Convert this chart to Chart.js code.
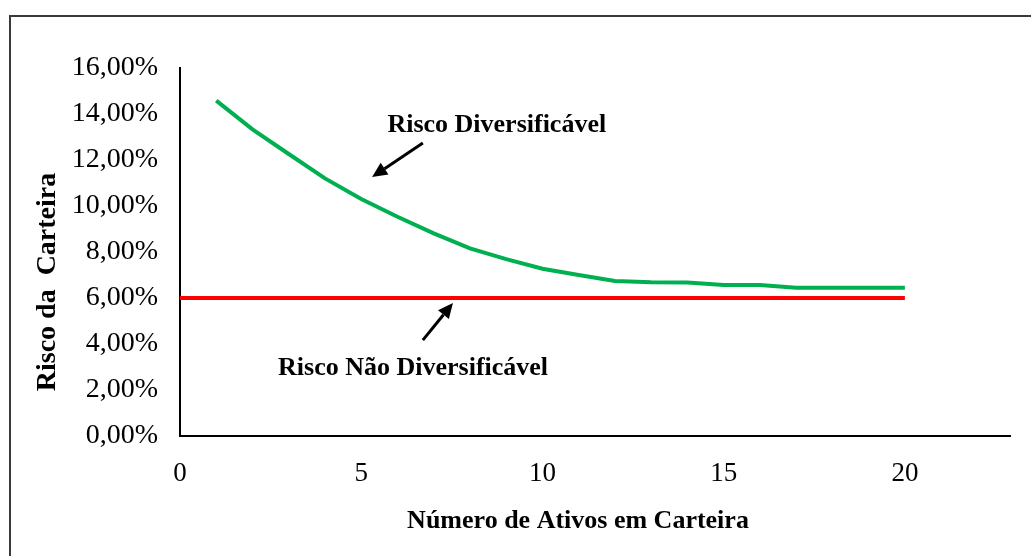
<!DOCTYPE html>
<html>
<head>
<meta charset="utf-8">
<script src="https://cdn.jsdelivr.net/npm/chart.js@4"></script>
<style>
  html, body { margin: 0; padding: 0; background: #fff; }
  #chart { display: block; }
</style>
</head>
<body>
<canvas id="chart" width="1031" height="556"></canvas>
<script>
// Data (risk in %)
const numAtivos = [1, 2, 3, 4, 5, 6, 7, 8, 9, 10, 11, 12, 13, 14, 15, 16, 17, 18, 19, 20];
const riscoCarteira = [14.58, 13.33, 12.26, 11.2, 10.3, 9.53, 8.81, 8.16, 7.69, 7.27,
  7.0, 6.74, 6.68, 6.67, 6.57, 6.57, 6.45, 6.45, 6.45, 6.45];
const riscoSistX = [0, 20];
const riscoSistY = [6, 6];
const xTicks = [0, 5, 10, 15, 20];
const yTicks = [0, 2, 4, 6, 8, 10, 12, 14, 16];

const serif = "'Liberation Serif', 'Times New Roman', serif";

// Text labels and arrows, in data coordinates
const notes = [
  { text: "Risco Diversificável", x: 8.74, y: 13.52 },
  { text: "Risco Não Diversificável", x: 6.43, y: 2.96 },
];
const arrows = [
  { from: [6.70, 12.74], to: [5.30, 11.26] },
  { from: [6.70, 4.17], to: [7.53, 5.78] },
];

const framePlugin = {
  id: "frame",
  beforeDraw(chart) {
    const ctx = chart.ctx;
    ctx.save();
    ctx.fillStyle = "#fff";
    ctx.fillRect(0, 0, chart.width, chart.height);
    ctx.strokeStyle = "#3a3a3a";
    ctx.lineWidth = 2;
    ctx.strokeRect(10, 16, chart.width + 20, chart.height + 20);
    ctx.restore();
  },
};

function drawArrow(ctx, x1, y1, x2, y2) {
  const ang = Math.atan2(y2 - y1, x2 - x1);
  const len = 15, half = 7;
  const bx = x2 - len * Math.cos(ang), by = y2 - len * Math.sin(ang);
  ctx.beginPath();
  ctx.moveTo(x1, y1);
  ctx.lineTo(bx, by);
  ctx.stroke();
  ctx.beginPath();
  ctx.moveTo(x2, y2);
  ctx.lineTo(bx + half * Math.sin(ang), by - half * Math.cos(ang));
  ctx.lineTo(bx - half * Math.sin(ang), by + half * Math.cos(ang));
  ctx.closePath();
  ctx.fill();
}

const notesPlugin = {
  id: "notes",
  afterDraw(chart) {
    const ctx = chart.ctx;
    const xs = chart.scales.x, ys = chart.scales.y;
    ctx.save();
    ctx.fillStyle = "#000";
    ctx.strokeStyle = "#000";
    ctx.font = "bold 26px " + serif;
    ctx.textAlign = "center";
    ctx.textBaseline = "middle";
    notes.forEach((n) => {
      ctx.fillText(n.text, xs.getPixelForValue(n.x), ys.getPixelForValue(n.y));
    });
    ctx.lineWidth = 3;
    arrows.forEach((a) => {
      drawArrow(ctx,
        xs.getPixelForValue(a.from[0]), ys.getPixelForValue(a.from[1]),
        xs.getPixelForValue(a.to[0]), ys.getPixelForValue(a.to[1]));
    });

    // axis titles
    ctx.fillText("Número de Ativos em Carteira", 578, 521);
    ctx.font = "bold 28px " + serif;
    ctx.translate(48, 282);
    ctx.rotate(-Math.PI / 2);
    ctx.fillText("Risco da  Carteira", 0, 0);
    ctx.restore();
  },
};

new Chart(document.getElementById("chart"), {
  type: "line",
  data: {
    datasets: [
      {
        label: "Risco Diversificável",
        data: numAtivos.map((x, i) => ({ x: x, y: riscoCarteira[i] })),
        borderColor: "#00B050",
        borderWidth: 4,
        pointRadius: 0,
        tension: 0,
      },
      {
        label: "Risco Não Diversificável",
        data: riscoSistX.map((x, i) => ({ x: x, y: riscoSistY[i] })),
        borderColor: "#FF0000",
        borderWidth: 4,
        pointRadius: 0,
        tension: 0,
      },
    ],
  },
  options: {
    responsive: false,
    animation: false,
    layout: { padding: { left: 20, top: 68, right: 21, bottom: 0 } },
    plugins: {
      legend: { display: false },
      tooltip: { enabled: false },
    },
    scales: {
      x: {
        type: "linear",
        min: 0,
        max: 22.9,
        grid: { display: false },
        border: { display: true, color: "#000", width: 2 },
        afterFit(scale) { scale.height = 120; },
        afterBuildTicks(scale) { scale.ticks = xTicks.map((v) => ({ value: v })); },
        ticks: {
          padding: 14,
          color: "#000",
          font: { family: serif, size: 27 },
        },
      },
      y: {
        min: 0,
        max: 16,
        grid: { display: false },
        border: { display: true, color: "#000", width: 2 },
        afterFit(scale) { scale.width = 160; },
        afterBuildTicks(scale) { scale.ticks = yTicks.map((v) => ({ value: v })); },
        ticks: {
          padding: 14,
          color: "#000",
          font: { family: serif, size: 28 },
          callback: (v) => v.toFixed(2).replace(".", ",") + "%",
        },
      },
    },
  },
  plugins: [framePlugin, notesPlugin],
});
</script>
</body>
</html>
